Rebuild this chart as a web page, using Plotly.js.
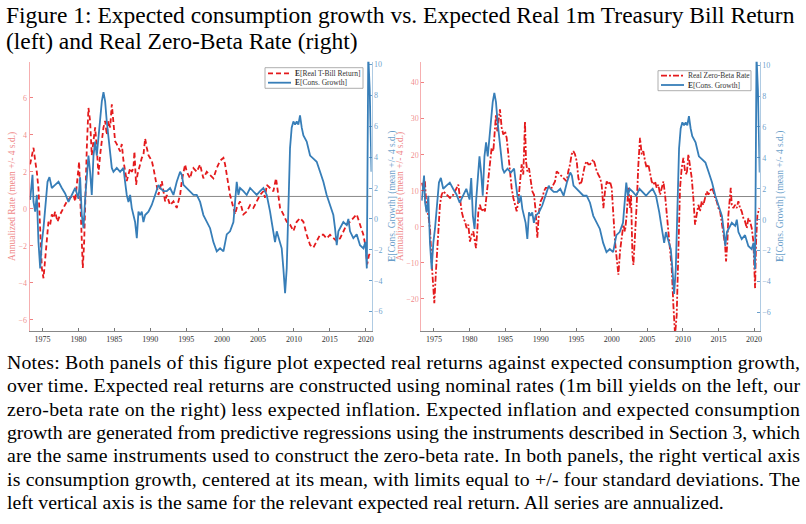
<!DOCTYPE html>
<html>
<head>
<meta charset="utf-8">
<script src="https://cdn.plot.ly/plotly-3.0.1.min.js"></script>
<style>
  html, body { margin: 0; padding: 0; background: #fff; }
  #graph { width: 806px; height: 524px; }
</style>
</head>
<body>
<div id="graph"></div>
<script>

// left panel: expected real 1m T-bill return (annualized, %)
const yearsTbill = [1973.28, 1973.52, 1973.75, 1973.98, 1974.21, 1974.44, 1974.58, 1974.68, 1974.91, 1975.14,
    1975.37, 1975.60, 1975.83, 1976.07, 1976.30, 1976.53, 1976.76, 1977.09, 1977.46, 1977.92,
    1978.39, 1978.85, 1979.31, 1979.55, 1979.87, 1980.10, 1980.24, 1980.43, 1980.61, 1980.80,
    1980.98, 1981.17, 1981.40, 1981.63, 1981.86, 1982.10, 1982.33, 1982.56, 1982.79, 1983.02,
    1983.26, 1983.49, 1983.72, 1983.95, 1984.18, 1984.42, 1984.65, 1984.88, 1985.11, 1985.34,
    1985.58, 1985.81, 1986.04, 1986.27, 1986.73, 1986.97, 1987.20, 1987.43, 1987.66, 1987.80,
    1988.03, 1988.22, 1988.59, 1988.82, 1989.05, 1989.29, 1989.52, 1989.75, 1989.98, 1990.21,
    1990.45, 1990.68, 1990.91, 1991.14, 1991.37, 1991.61, 1991.84, 1992.07, 1992.30, 1992.53,
    1992.76, 1993.23, 1993.69, 1993.92, 1994.16, 1994.39, 1994.62, 1994.85, 1995.08, 1995.55,
    1995.78, 1996.01, 1996.47, 1996.94, 1997.17, 1997.40, 1997.87, 1998.33, 1998.79, 1999.26,
    1999.72, 2000.19, 2000.42, 2000.65, 2000.88, 2001.11, 2001.58, 2001.81, 2002.04, 2002.50,
    2002.97, 2003.43, 2003.90, 2004.36, 2004.82, 2005.29, 2005.75, 2005.98, 2006.22, 2006.68,
    2007.14, 2007.51, 2007.70, 2008.07, 2008.53, 2009.00, 2009.46, 2009.93, 2010.39, 2010.85,
    2011.32, 2011.78, 2012.25, 2012.71, 2013.17, 2013.64, 2014.10, 2014.56, 2015.03, 2015.49,
    2015.96, 2016.42, 2016.88, 2017.35, 2017.81, 2018.27, 2018.74, 2019.20, 2019.67, 2020.00,
    2020.20, 2020.45, 2020.75]
const realTbill = [2.4, 2.9, 3.3, 2.6, 2.0, 1.1, -0.3, -1.8, -3.2, -3.75,
    -2.85, -1.8, -0.7, -0.85, -0.3, -0.5, -0.15, -0.7, -0.3, 0.05,
    0.4, 0.6, 0.75, 0.4, 1.65, 2.55, 0.75, -1.6, -3.2, -1.8,
    1.5, 3.3, 5.45, 4.75, 2.9, 3.8, 4.4, 3.3, 1.85, 2.9,
    3.8, 4.4, 4.75, 4.0, 4.75, 4.4, 5.65, 4.75, 3.65, 3.5,
    3.3, 3.1, 3.5, 2.6, 1.5, 1.85, 2.2, 2.0, 2.2, 3.1,
    1.3, 1.85, 2.4, 2.75, 2.9, 3.8, 3.3, 2.9, 2.75, 2.6,
    2.2, 1.65, 1.1, 0.75, 1.1, 1.5, 0.95, 0.4, 0.75, 0.4,
    0.2, 0.4, 0.05, 0.4, 0.75, 1.5, 2.0, 2.4, 2.0, 1.65,
    2.0, 2.2, 2.0, 2.4, 2.0, 1.65, 2.0, 1.85, 1.65, 2.2,
    2.6, 2.75, 2.4, 1.85, 1.3, 0.75, 0.05, -0.3, 0.05, 0.4,
    -0.3, -0.15, 0.2, 0.05, 0.4, 0.75, 0.95, 0.6, 1.3, 1.1,
    0.95, 1.65, 1.1, 0.05, -0.3, -0.7, -0.85, -1.2, -0.7, -0.5,
    -0.7, -1.4, -1.95, -2.1, -1.75, -1.4, -1.4, -1.6, -1.4, -1.6,
    -1.75, -1.6, -1.2, -0.85, -0.7, -0.5, -0.3, -0.85, -1.4, -2.1,
    -3.0, -2.5, -2.3]

// both panels: expected consumption growth (annualized, %)
const yearsGrowth = [1973.28, 1973.61, 1973.75, 1973.98, 1974.21, 1974.44, 1974.68, 1974.91, 1975.14, 1975.37,
    1975.70, 1975.97, 1976.30, 1976.76, 1977.23, 1977.69, 1978.15, 1978.62, 1979.08, 1979.55,
    1980.01, 1980.24, 1980.47, 1980.71, 1980.94, 1981.17, 1981.40, 1981.63, 1981.86, 1982.10,
    1982.33, 1982.56, 1982.79, 1983.02, 1983.26, 1983.49, 1983.72, 1983.95, 1984.18, 1984.42,
    1984.65, 1984.88, 1985.34, 1985.81, 1986.27, 1986.50, 1986.73, 1986.97, 1987.20, 1987.43,
    1987.66, 1987.89, 1988.13, 1988.36, 1988.59, 1988.82, 1989.05, 1989.29, 1989.75, 1990.21,
    1990.68, 1991.14, 1991.37, 1991.84, 1992.30, 1992.76, 1993.23, 1993.69, 1994.16, 1994.39,
    1994.62, 1995.08, 1995.55, 1996.01, 1996.47, 1996.94, 1997.40, 1997.87, 1998.33, 1998.79,
    1999.26, 1999.72, 2000.19, 2000.65, 2001.11, 2001.58, 2001.81, 2002.04, 2002.27, 2002.50,
    2002.97, 2003.43, 2003.90, 2004.36, 2004.82, 2005.29, 2005.75, 2006.22, 2006.45, 2006.68,
    2006.91, 2007.14, 2007.37, 2007.61, 2008.07, 2008.30, 2008.53, 2008.77, 2009.00, 2009.23,
    2009.46, 2009.69, 2009.93, 2010.16, 2010.39, 2010.62, 2010.85, 2011.09, 2011.32, 2011.78,
    2012.25, 2012.71, 2013.17, 2013.64, 2014.10, 2014.56, 2015.03, 2015.49, 2015.72, 2015.96,
    2016.19, 2016.42, 2016.88, 2017.35, 2017.58, 2017.81, 2018.27, 2018.74, 2019.20, 2019.67,
    2019.95, 2020.15, 2020.35, 2020.55, 2020.70, 2020.80]
const consGrowth = [1.23, 2.85, 1.1, 0.47, 1.55, -1.5, -3.2, -1.5, -0.6, 0.9,
    2.4, 2.7, 2.0, 2.2, 2.4, 2.0, 1.65, 1.1, 1.55, 2.0,
    1.3, 2.7, 0.25, -0.6, 1.3, 2.85, 4.1, 3.05, 1.55, 4.1,
    5.0, 4.1, 5.4, 6.7, 7.6, 8.2, 7.6, 6.3, 5.2, 4.1,
    3.3, 3.05, 3.3, 3.05, 3.3, 2.4, 1.55, 1.1, 1.55, 0.7,
    0.25, -0.2, -1.25, 0.47, 0.25, 0.47, -0.2, 0.25, 0.47, 0.9,
    1.55, 2.2, 2.0, 1.8, 1.8, 2.0, 1.55, 2.4, 3.05, 2.85,
    2.2, 2.0, 1.8, 1.55, 1.55, 1.1, 0.25, -0.2, -0.6, -1.5,
    -2.1, -1.9, -2.1, -1.0, -0.8, -0.2, 1.1, 2.4, 1.55, 2.0,
    1.8, 1.55, 2.0, 1.8, 1.55, 1.8, 2.0, 1.55, 1.1, 0.47,
    -0.2, -0.8, -1.5, -0.8, -1.5, -1.9, -3.2, -4.8, -3.2, 0.9,
    4.6, 5.9, 6.3, 6.1, 6.3, 6.1, 6.7, 5.9, 5.4, 5.0,
    4.1, 3.9, 3.7, 3.05, 2.4, 1.55, 0.9, 0.25, -0.6, -1.7,
    -0.8, -0.6, -0.2, -0.4, 0.0, -0.8, -1.25, -1.0, -1.7, -1.9,
    -1.5, -3.2, 10.6, 8.4, 4.1, 3.05]

// right panel: real zero-beta rate (annualized, %)
const yearsZeroBeta = [1973.27, 1973.50, 1973.73, 1973.97, 1974.20, 1974.44, 1974.67, 1974.91, 1975.05, 1975.28,
    1975.47, 1975.70, 1975.84, 1976.08, 1976.31, 1976.78, 1977.25, 1977.72, 1978.19, 1978.42,
    1978.66, 1978.89, 1979.13, 1979.36, 1979.59, 1979.83, 1980.06, 1980.30, 1980.53, 1980.77,
    1980.91, 1981.09, 1981.24, 1981.47, 1981.70, 1981.94, 1982.17, 1982.31, 1982.50, 1982.64,
    1982.88, 1983.11, 1983.35, 1983.58, 1983.72, 1983.91, 1984.10, 1984.28, 1984.52, 1984.75,
    1984.99, 1985.22, 1985.46, 1985.69, 1985.92, 1986.16, 1986.39, 1986.63, 1986.86, 1987.10,
    1987.33, 1987.56, 1987.80, 1987.94, 1988.13, 1988.36, 1988.60, 1988.83, 1989.07, 1989.30,
    1989.53, 1989.77, 1990.00, 1990.24, 1990.47, 1990.71, 1991.08, 1991.55, 1992.02, 1992.25,
    1992.72, 1993.19, 1993.66, 1993.89, 1994.13, 1994.36, 1994.60, 1994.83, 1995.07, 1995.30,
    1995.53, 1995.77, 1996.00, 1996.24, 1996.47, 1996.71, 1996.94, 1997.18, 1997.41, 1997.64,
    1997.88, 1998.11, 1998.35, 1998.58, 1998.82, 1999.05, 1999.29, 1999.52, 1999.75, 1999.99,
    2000.22, 2000.46, 2000.69, 2000.93, 2001.16, 2001.40, 2001.63, 2001.86, 2002.10, 2002.33,
    2002.57, 2002.71, 2002.90, 2003.04, 2003.27, 2003.50, 2003.74, 2003.97, 2004.21, 2004.44,
    2004.68, 2004.91, 2005.15, 2005.38, 2005.61, 2005.85, 2006.08, 2006.32, 2006.55, 2006.79,
    2007.02, 2007.26, 2007.49, 2007.72, 2007.96, 2008.19, 2008.43, 2008.66, 2008.90, 2009.13,
    2009.37, 2009.60, 2009.83, 2010.07, 2010.30, 2010.54, 2010.77, 2011.01, 2011.24, 2011.47,
    2011.71, 2011.94, 2012.18, 2012.41, 2012.65, 2012.88, 2013.12, 2013.35, 2013.58, 2013.82,
    2014.05, 2014.29, 2014.52, 2014.76, 2014.99, 2015.23, 2015.46, 2015.69, 2015.93, 2016.07,
    2016.26, 2016.40, 2016.63, 2016.73, 2016.87, 2017.10, 2017.34, 2017.57, 2017.80, 2018.04,
    2018.27, 2018.51, 2018.74, 2018.98, 2019.21, 2019.44, 2019.68, 2019.91, 2020.15, 2020.29,
    2020.48, 2020.62, 2020.78]
const realZeroBeta = [12.2, 10.8, 12.6, 4.3, 3.4, -0.35, -9.6, -17, -21.2, -12.4,
    -4.1, 1.5, 6.1, 8.9, 9.85, 8.9, 8.0, 8.9, 10.8, 11.7,
    8.0, 4.3, 2.4, 1.5, -0.35, 0.6, -4.1, -2.2, -1.3, -4.1,
    -5.9, -1.3, 4.3, 6.1, 4.3, 5.2, 4.3, 7.1, 10.8, 13.6,
    17.3, 21.9, 21.0, 27.5, 31.2, 26.5, 29.3, 32.6, 27.5, 25.6,
    26.5, 24.7, 20.1, 15.4, 10.8, 8.0, 6.1, 4.3, 7.1, 12.6,
    17.3, 14.5, 29.3, 18.2, 15.4, 16.3, 12.6, 9.85, 8.9, 4.3,
    -3.1, 4.3, 7.1, 8.0, 9.85, 10.8, 10.8, 10.8, 12.6, 15.4,
    14.5, 13.6, 12.6, 15.4, 17.3, 20.1, 21.0, 20.1, 18.2, 13.6,
    11.7, 12.6, 14.5, 17.3, 18.2, 17.3, 17.3, 18.2, 18.7, 17.3,
    15.4, 14.5, 13.6, 11.7, 5.2, 9.85, 12.6, 11.7, 12.6, 10.8,
    1.5, -4.1, -8.7, -13.3, -6.8, -3.1, 0.6, -1.3, 3.4, 10.8,
    5.2, 8.9, -7.7, -10.6, -3.1, 6.1, 17.3, 24.7, 20.1, 21.0,
    18.2, 16.3, 17.3, 14.5, 12.6, 11.7, 12.6, 10.8, 11.7, 8.9,
    10.8, 12.6, 8.9, 3.4, -0.35, -5.9, -11.5, -21.7, -30, -24.5,
    -7.7, 10.8, 16.3, 19.1, 15.4, 14.5, 20.1, 17.3, 13.6, 8.0,
    0.6, 3.4, 6.1, 4.3, 7.1, 6.1, 8.0, 9.85, 8.9, 9.85,
    10.8, 9.85, 8.0, 7.1, 5.2, 4.3, 1.5, -2.2, -5.0, -9.6,
    -4.1, 3.4, 8.9, 10.8, 6.1, 5.2, 6.1, 5.2, 7.1, 5.2,
    4.3, 2.4, 1.5, -0.35, 2.4, 1.5, -0.35, -4.1, -17, -4.1,
    3.4, 4.3, 5.2]

// sample means (horizontal reference lines)
const meanTbill = 0.67
const meanZeroBeta = 8.4

const yearTicks = [1975, 1980, 1985, 1990, 1995, 2000, 2005, 2010, 2015, 2020]

const titleLines = [
    'Figure 1: Expected consumption growth vs. Expected Real 1m Treasury Bill Return',
    '(left) and Real Zero-Beta Rate (right)'
]

const noteLines = [
    'Notes: Both panels of this figure plot expected real returns against expected consumption growth,',
    'over time. Expected real returns are constructed using nominal rates (1m bill yields on the left, our',
    'zero-beta rate on the right) less expected inflation. Expected inflation and expected consumption',
    'growth are generated from predictive regressions using the instruments described in Section 3, which',
    'are the same instruments used to construct the zero-beta rate. In both panels, the right vertical axis',
    'is consumption growth, centered at its mean, with limits equal to +/- four standard deviations. The',
    'left vertical axis is the same for the relevant expected real return. All series are annualized.'
]


const RED = '#E41A1C'
const BLUE = '#377EB8'
const SERIF = 'Liberation Serif, Times New Roman, serif'

const redSoft = 'rgba(228,26,28,0.55)'
const redLine = 'rgba(228,26,28,0.35)'
const blueSoft = 'rgba(55,126,184,0.75)'
const blueLine = 'rgba(55,126,184,0.4)'

const TBILL_DASH = '5px,3px'
const ZB_DASH = '6px,2px,2px,2px'

// pixel -> paper helpers (page is 806 x 524)
const px = (x) => x / 806
const py = (y) => 1 - y / 524


var traces = [
    {
        type: 'scatter', mode: 'lines',
        x: yearsTbill, y: realTbill,
        xaxis: 'x', yaxis: 'y',
        name: 'E[Real T-Bill Return]',
        line: { color: RED, width: 1.8, dash: TBILL_DASH }
    },
    {
        type: 'scatter', mode: 'lines',
        x: yearsGrowth, y: consGrowth,
        xaxis: 'x', yaxis: 'y2',
        name: 'E[Cons. Growth]',
        line: { color: BLUE, width: 1.8 }
    },
    {
        type: 'scatter', mode: 'lines',
        x: yearsZeroBeta, y: realZeroBeta,
        xaxis: 'x2', yaxis: 'y3',
        name: 'Real Zero-Beta Rate',
        line: { color: RED, width: 1.8, dash: ZB_DASH }
    },
    {
        type: 'scatter', mode: 'lines',
        x: yearsGrowth, y: consGrowth,
        xaxis: 'x2', yaxis: 'y4',
        name: 'E[Cons. Growth]',
        line: { color: BLUE, width: 1.8 }
    }
];


function xAxis(domain, anchor) {
    return {
        domain: domain,
        anchor: anchor,
        range: [1973.22, 2020.8],
        tickvals: yearTicks,
        ticks: 'inside', ticklen: 3, tickcolor: '#777',
        showline: true, linecolor: '#888', linewidth: 1,
        showgrid: false, zeroline: false,
        tickfont: { family: SERIF, size: 8, color: '#333' },
        fixedrange: true
    }
}

function yAxis(opts) {
    return Object.assign({
        ticks: 'inside', ticklen: 3,
        showline: true, linewidth: 1,
        showgrid: false, zeroline: false,
        fixedrange: true
    }, opts)
}

const ySide = [py(331), py(61.7)]
const titleAxisFont = (c) => ({ family: SERIF, size: 9.5, color: c })


// compact legends, drawn like the MATLAB ones (box + line sample + label)
function legendBox(x0, y0, x1, y1) {
    return { type: 'rect', xref: 'paper', yref: 'paper',
        x0: px(x0), x1: px(x1), y0: py(y1), y1: py(y0),
        fillcolor: '#fff', line: { color: '#999', width: 0.8 }, layer: 'above' }
}
function legendSample(x0, x1, y, color, dash) {
    return { type: 'line', xref: 'paper', yref: 'paper',
        x0: px(x0), x1: px(x1), y0: py(y), y1: py(y),
        line: { color: color, width: 1.8, dash: dash }, layer: 'above' }
}
function legendLabel(x, y, text) {
    return { xref: 'paper', yref: 'paper', x: px(x), y: py(y),
        xanchor: 'left', yanchor: 'middle', showarrow: false, text: text,
        font: { family: SERIF, size: 7.5, color: '#333' } }
}


var shapes = [
    { type: 'line', xref: 'x domain', x0: 0, x1: 1, yref: 'y', y0: meanTbill, y1: meanTbill,
      line: { color: '#888', width: 1 }, layer: 'below' },
    { type: 'line', xref: 'x2 domain', x0: 0, x1: 1, yref: 'y3', y0: meanZeroBeta, y1: meanZeroBeta,
      line: { color: '#888', width: 1 }, layer: 'below' },

    legendBox(265, 67.7, 363, 88.3),
    legendSample(268, 291, 73.3, RED, TBILL_DASH),
    legendSample(268, 291, 82.7, BLUE, 'solid'),

    legendBox(658, 70.7, 751, 90.7),
    legendSample(661, 684, 75.7, RED, ZB_DASH),
    legendSample(661, 684, 85, BLUE, 'solid')
]

var annotations = [
    legendLabel(293, 73.3, '<b>E</b>[Real T-Bill Return]'),
    legendLabel(293, 82.7, '<b>E</b>[Cons. Growth]'),
    legendLabel(686, 75.7, 'Real Zero-Beta Rate'),
    legendLabel(686, 85, '<b>E</b>[Cons. Growth]')
]

titleLines.forEach((line, i) => {
    annotations.push({
        xref: 'paper', yref: 'paper', x: px(4), y: py(-0.5 + 27 * i),
        xanchor: 'left', yanchor: 'top', align: 'left', showarrow: false,
        text: line,
        font: { family: SERIF, size: 23.5, color: '#000' }
    })
})

noteLines.forEach((line, i) => {
    annotations.push({
        xref: 'paper', yref: 'paper', x: px(5), y: py(349 + 23.3 * i),
        xanchor: 'left', yanchor: 'top', align: 'left', showarrow: false,
        text: line,
        font: { family: SERIF, size: 19.8, color: '#000' }
    })
})


var layout = {
    width: 806,
    height: 524,
    margin: { l: 0, r: 0, t: 0, b: 0 },
    paper_bgcolor: '#fff',
    plot_bgcolor: '#fff',
    font: { family: SERIF },
    showlegend: false,

    xaxis: xAxis([px(29.7), px(371.5)], 'y'),
    xaxis2: xAxis([px(421.3), px(759.7)], 'y3'),

    yaxis: yAxis({
        domain: ySide, anchor: 'x', side: 'left',
        range: [-6.6, 7.95], dtick: 2,
        linecolor: redLine, tickcolor: redSoft,
        tickfont: { family: SERIF, size: 8, color: redSoft },
        title: { text: 'Annualized Rate (mean +/- 4 s.d.)', font: titleAxisFont(redSoft), standoff: 1 }
    }),
    yaxis2: yAxis({
        overlaying: 'y', anchor: 'x', side: 'right',
        range: [-7.25, 10.17], dtick: 2,
        linecolor: blueLine, tickcolor: blueSoft,
        tickfont: { family: SERIF, size: 8, color: blueSoft },
        title: { text: '<b>E</b>[Cons. Growth] (mean +/- 4 s.d.)', font: titleAxisFont(blueSoft), standoff: 6 }
    }),
    yaxis3: yAxis({
        domain: ySide, anchor: 'x2', side: 'left',
        range: [-28.9, 45.8], dtick: 10,
        linecolor: redLine, tickcolor: redSoft,
        tickfont: { family: SERIF, size: 8, color: redSoft },
        title: { text: 'Annualized Rate (mean +/- 4 s.d.)', font: titleAxisFont(redSoft), standoff: 0 }
    }),
    yaxis4: yAxis({
        overlaying: 'y3', anchor: 'x2', side: 'right',
        range: [-7.2, 10.22], dtick: 2,
        linecolor: blueLine, tickcolor: blueSoft,
        tickfont: { family: SERIF, size: 8, color: blueSoft },
        title: { text: '<b>E</b>[Cons. Growth] (mean +/- 4 s.d.)', font: titleAxisFont(blueSoft), standoff: 6 }
    }),

    shapes: shapes,
    annotations: annotations
};

var config = { displayModeBar: false, staticPlot: true }


// fit the note lines (all but the last) to the full text width, like justified text
function justifyNotes(gd) {
    const target = 793
    gd.querySelectorAll('.annotation-text').forEach(el => {
        const idx = noteLines.indexOf(el.textContent)
        if (idx < 0 || idx === noteLines.length - 1) return
        el.setAttribute('textLength', target)
        el.setAttribute('lengthAdjust', 'spacing')
    })
}

Plotly.newPlot('graph', traces, layout, config).then(justifyNotes);

</script>
</body>
</html>
